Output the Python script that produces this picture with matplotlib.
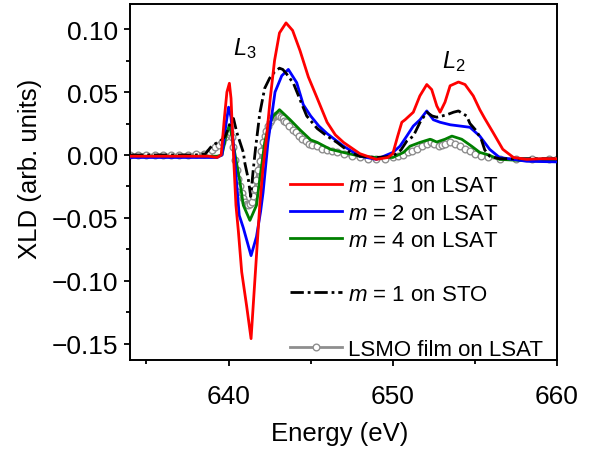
import matplotlib
matplotlib.use("Agg")
import matplotlib.pyplot as plt
from matplotlib.lines import Line2D
from matplotlib.ticker import MultipleLocator, FuncFormatter

plt.rcParams['font.family'] = ['Liberation Sans', 'DejaVu Sans']
plt.rcParams['mathtext.fontset'] = 'custom'
plt.rcParams['mathtext.it'] = 'Liberation Sans:italic'
plt.rcParams['mathtext.rm'] = 'Liberation Sans'

# ---- XLD spectra (energy in eV, XLD in arb. units) ----
e_m1_lsat = [634.0, 635.0, 636.0, 637.0, 638.0, 638.8, 639.3, 639.55, 639.75, 639.9,
             640.05, 640.15, 640.3, 640.45, 640.6, 640.8, 641.1, 641.37, 641.6, 641.9,
             642.1, 642.3, 642.53, 642.8, 643.1, 643.5, 643.9, 644.35, 644.86, 645.37,
             646.0, 646.5, 647.0, 648.0, 649.0, 649.7, 650.0, 650.3, 650.55, 650.75,
             651.25, 651.65, 652.07, 652.37, 652.68, 652.88, 653.18, 653.49, 654.0, 654.4,
             654.9, 655.3, 655.6, 656.1, 656.7, 657.35, 658.15, 659.0, 660.0]
xld_m1_lsat = [-0.001, -0.001, -0.001, -0.001, -0.001, -0.001, -0.002, 0.000, 0.030, 0.050,
               0.057, 0.045, 0.000, -0.040, -0.061, -0.093, -0.120, -0.146, -0.100, -0.040,
               -0.010, 0.012, 0.044, 0.075, 0.097, 0.105, 0.099, 0.083, 0.062, 0.046,
               0.026, 0.016, 0.010, 0.001, -0.0035, -0.002, 0.001, 0.015, 0.026, 0.028,
               0.034, 0.047, 0.056, 0.052, 0.039, 0.034, 0.042, 0.055, 0.058, 0.056,
               0.047, 0.036, 0.029, 0.018, 0.0045, -0.002, -0.0035, -0.003, -0.003]

e_m2_lsat = [634.0, 636.0, 638.0, 639.3, 639.6, 639.85, 640.0, 640.15, 640.35, 640.65,
             640.9, 641.37, 641.7, 641.95, 642.1, 642.4, 642.83, 643.24, 643.64, 644.15,
             644.55, 645.0, 645.5, 646.0, 647.0, 648.0, 649.0, 650.0, 650.44, 650.85,
             651.25, 651.66, 652.07, 652.47, 652.88, 653.5, 654.1, 654.7, 655.3, 655.9,
             656.5, 658.15, 660.0]
xld_m2_lsat = [-0.002, -0.002, -0.002, -0.002, 0.000, 0.025, 0.038, 0.030, 0.000, -0.048,
               -0.058, -0.080, -0.065, -0.045, -0.030, 0.010, 0.050, 0.063, 0.068, 0.0575,
               0.040, 0.031, 0.023, 0.017, 0.007, -0.001, -0.0035, 0.002, 0.007, 0.015,
               0.023, 0.028, 0.035, 0.028, 0.026, 0.024, 0.023, 0.022, 0.015, 0.0045,
               -0.002, -0.005, -0.0055]

e_m4_lsat = [634.0, 636.0, 638.0, 639.3, 639.6, 639.85, 640.05, 640.2, 640.4, 640.7,
             640.9, 641.3, 641.7, 641.9, 642.05, 642.2, 642.45, 642.73, 643.1, 643.75,
             644.35, 645.0, 645.4, 646.2, 647.0, 648.0, 649.0, 650.0, 650.65, 651.05,
             651.66, 652.27, 652.68, 653.18, 653.6, 654.2, 654.8, 655.3, 655.7, 656.5,
             658.0, 660.0]
xld_m4_lsat = [-0.001, -0.001, -0.001, -0.001, 0.000, 0.015, 0.024, 0.015, 0.000, -0.022,
               -0.040, -0.052, -0.040, -0.019, -0.005, 0.010, 0.024, 0.031, 0.036, 0.028,
               0.020, 0.012, 0.010, 0.0045, 0.002, -0.001, -0.002, -0.002, 0.002, 0.007,
               0.010, 0.0125, 0.0103, 0.0125, 0.015, 0.0125, 0.007, 0.002, 0.0006, -0.0035,
               -0.0045, -0.005]

e_m1_sto = [634.0, 636.0, 638.0, 638.6, 638.9, 639.2, 639.5, 639.8, 640.1, 640.3,
            640.5, 640.7, 640.9, 641.0, 641.2, 641.35, 641.5, 641.65, 641.9, 642.2,
            642.5, 642.8, 643.1, 643.3, 643.5, 643.95, 644.35, 644.76, 645.4, 646.0,
            646.6, 647.4, 648.0, 649.0, 650.0, 650.5, 650.85, 651.25, 651.66, 652.07,
            652.4, 652.68, 653.0, 653.3, 653.7, 654.0, 654.5, 654.7, 655.1, 655.4,
            655.6, 655.9, 656.5, 658.0, 660.0]
xld_m1_sto = [0.000, 0.000, 0.000, 0.001, 0.006, 0.009, 0.011, 0.015, 0.025, 0.029,
              0.018, 0.010, 0.002, -0.007, -0.019, -0.033, -0.012, 0.006, 0.033, 0.053,
              0.061, 0.066, 0.069, 0.068, 0.065, 0.057, 0.044, 0.031, 0.021, 0.015,
              0.010, 0.002, -0.001, -0.002, -0.001, 0.004, 0.011, 0.015, 0.026, 0.034,
              0.031, 0.030, 0.031, 0.032, 0.034, 0.035, 0.031, 0.025, 0.019, 0.012,
              0.004, -0.001, -0.003, -0.003, -0.003]

e_film = [634.0, 634.5, 635.0, 635.5, 636.0, 636.5, 637.0, 637.5, 638.0, 638.5,
          638.8, 639.0, 639.2, 639.4, 639.6, 639.8, 640.0, 640.1, 640.2, 640.3,
          640.4, 640.5, 640.6, 640.7, 640.8, 640.9, 641.0, 641.1, 641.2, 641.3,
          641.4, 641.5, 641.6, 641.7, 641.8, 641.9, 642.0, 642.1, 642.2, 642.3,
          642.4, 642.5, 642.6, 642.7, 642.8, 642.9, 643.0, 643.1, 643.2, 643.3,
          643.4, 643.5, 643.7, 643.9, 644.1, 644.3, 644.5, 644.7, 644.9, 645.1,
          645.4, 645.7, 646.0, 646.3, 646.6, 647.0, 647.5, 648.0, 648.5, 649.0,
          649.5, 650.0, 650.3, 650.6, 650.9, 651.2, 651.5, 651.8, 652.1, 652.3,
          652.5, 652.8, 653.0, 653.2, 653.5, 653.8, 654.1, 654.4, 654.7, 655.0,
          655.4, 655.8, 656.5, 657.5, 658.5, 659.5, 660.0]
xld_film = [0.000, 0.000, 0.000, 0.000, 0.000, 0.000, 0.000, 0.000, 0.001, 0.001,
            0.002, 0.004, 0.006, 0.008, 0.010, 0.014, 0.017, 0.018, 0.014, 0.006,
            -0.004, -0.012, -0.019, -0.025, -0.030, -0.034, -0.037, -0.039, -0.040, -0.039,
            -0.037, -0.033, -0.027, -0.020, -0.012, -0.005, 0.003, 0.010, 0.015, 0.019,
            0.023, 0.026, 0.028, 0.030, 0.031, 0.032, 0.032, 0.031, 0.030, 0.029,
            0.027, 0.026, 0.023, 0.020, 0.018, 0.015, 0.013, 0.011, 0.009, 0.008,
            0.007, 0.005, 0.004, 0.003, 0.002, 0.001, -0.001, -0.002, -0.003, -0.003,
            -0.003, -0.002, -0.001, 0.000, 0.002, 0.003, 0.005, 0.007, 0.009, 0.010,
            0.009, 0.007, 0.008, 0.009, 0.010, 0.009, 0.007, 0.005, 0.003, 0.001,
            -0.001, -0.002, -0.003, -0.003, -0.003, -0.003, -0.003]

labels = ["$m$ = 1 on LSAT", "$m$ = 2 on LSAT", "$m$ = 4 on LSAT",
          "$m$ = 1 on STO", "LSMO film on LSAT"]

fig = plt.figure(figsize=(5.97, 4.56), dpi=100)
ax = fig.add_axes([0.2178, 0.2083, 0.7152, 0.7807])

gray = '#8e8e8e'
dashdot = (0, (4.8, 1.4, 1.0, 1.4))

h_film, = ax.plot(e_film, xld_film, color=gray, lw=2.0, marker='o', ms=4.8,
                  mfc='white', mec=gray, mew=1.0, zorder=1)
h_m4, = ax.plot(e_m4_lsat, xld_m4_lsat, color='#008000', lw=2.0, zorder=2)
h_m2, = ax.plot(e_m2_lsat, xld_m2_lsat, color='#0000ff', lw=2.0, zorder=3)
h_sto, = ax.plot(e_m1_sto, xld_m1_sto, color='black', lw=2.0, ls=dashdot, zorder=4)
h_m1, = ax.plot(e_m1_lsat, xld_m1_lsat, color='#ff0000', lw=2.0, zorder=5)

ax.set_xlim(634, 660)
ax.set_ylim(-0.163, 0.12)
ax.xaxis.set_major_locator(MultipleLocator(10))
ax.xaxis.set_minor_locator(MultipleLocator(5))
ax.yaxis.set_major_locator(MultipleLocator(0.05))
ax.yaxis.set_minor_locator(MultipleLocator(0.025))
ax.yaxis.set_major_formatter(
    FuncFormatter(lambda v, pos: f"{v:.2f}".replace("-", "\u2212")))

for s in ax.spines.values():
    s.set_linewidth(1.4)
ax.tick_params(which='major', direction='out', length=4.5, width=1.3, labelsize=19)
ax.tick_params(which='minor', direction='out', length=2.8, width=1.3)
ax.tick_params(axis='y', which='major', pad=4)
ax.tick_params(axis='x', which='major', pad=12.5)

ax.set_xlabel("Energy (eV)", fontsize=18.5)
ax.set_ylabel("XLD (arb. units)", fontsize=18.5)
ax.xaxis.set_label_coords(0.492, -0.17)
ax.yaxis.set_label_coords(-0.205, 0.54)

ax.text(640.3, 0.080, "$L_3$", fontsize=17)
ax.text(653.0, 0.070, "$L_2$", fontsize=17)

blank = Line2D([], [], color='none')
handles = [h_m1, h_m2, h_m4, blank, h_sto, blank, h_film]
leg_labels = [labels[0], labels[1], labels[2], " ", labels[3], " ", labels[4]]
leg = ax.legend(handles, leg_labels, loc='center left',
                bbox_to_anchor=(290 / 597, 1 - 268.5 / 456),
                bbox_transform=fig.transFigure, frameon=False,
                fontsize=16, handlelength=2.35, handletextpad=0.25,
                labelspacing=0.28, borderpad=0, borderaxespad=0, numpoints=1)

fig.savefig("out.png", dpi=100)
